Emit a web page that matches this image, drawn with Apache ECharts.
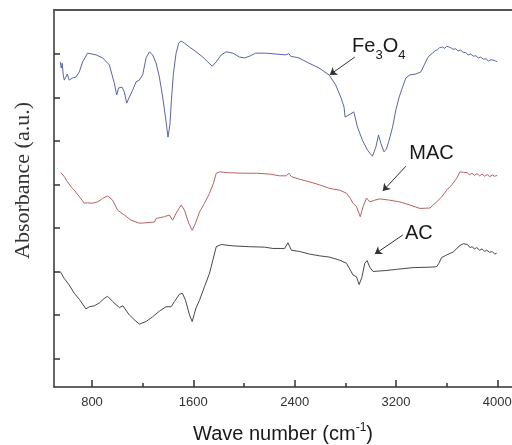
<!DOCTYPE html>
<html style="height: 100%">
<head>
  <meta charset="utf-8">
</head>
<body style="height: 100%; margin: 0; background: #fff">
  <div id="container" style="width: 512px; height: 445px"></div>
  <script type="text/javascript" src="https://fastly.jsdelivr.net/npm/echarts@6/dist/echarts.min.js"></script>
  <script type="text/javascript">
    // wave number (cm-1), absorbance (a.u., curves offset)
    var fe3o4 = [
      [549, 6.82], [557, 6.68], [565, 6.79], [573, 6.52], [581, 6.40], [594, 6.47], [605, 6.54],
      [620, 6.40], [647, 6.45], [673, 6.47], [700, 6.59], [726, 6.82], [765, 7.02], [832, 6.98],
      [884, 6.91], [937, 6.75], [976, 6.33], [995, 6.06], [1010, 6.22], [1037, 6.24], [1055, 6.13],
      [1074, 5.87], [1095, 6.01], [1121, 6.17], [1148, 6.36], [1174, 6.40], [1200, 6.52],
      [1227, 6.91], [1253, 7.05], [1279, 6.98], [1306, 6.79], [1332, 6.47], [1358, 6.01],
      [1380, 5.55], [1400, 5.09], [1415, 5.37], [1427, 5.94], [1443, 6.56], [1464, 7.02],
      [1485, 7.25], [1502, 7.30], [1530, 7.25], [1570, 7.16], [1623, 7.05], [1675, 6.93],
      [1714, 6.82], [1749, 6.72], [1781, 6.82], [1820, 6.98], [1860, 7.05], [1912, 7.02],
      [1965, 6.93], [2005, 6.91], [2044, 6.95], [2092, 7.02], [2171, 7.02], [2250, 7.00],
      [2329, 6.98], [2355, 7.01], [2368, 6.95], [2434, 6.91], [2513, 6.79], [2592, 6.68],
      [2671, 6.52], [2724, 6.29], [2764, 6.01], [2790, 5.78], [2798, 5.55], [2829, 5.60],
      [2867, 5.67], [2896, 5.32], [2935, 5.02], [2975, 4.79], [3014, 4.65], [3041, 4.86],
      [3062, 5.14], [3080, 4.95], [3106, 4.75], [3125, 4.82], [3146, 5.02], [3173, 5.32],
      [3199, 5.71], [3225, 6.01], [3252, 6.24], [3278, 6.45], [3310, 6.52], [3357, 6.54],
      [3397, 6.59], [3423, 6.75], [3450, 6.91], [3470, 6.98], [3489, 7.02], [3505, 7.07],
      [3515, 7.04], [3529, 7.10], [3545, 7.15], [3560, 7.12], [3568, 7.16], [3585, 7.13],
      [3600, 7.18], [3615, 7.14], [3630, 7.15], [3650, 7.11], [3673, 7.12], [3690, 7.07],
      [3710, 7.09], [3730, 7.04], [3752, 7.03], [3770, 6.98], [3790, 7.00], [3810, 6.95],
      [3831, 6.96], [3850, 6.91], [3870, 6.93], [3890, 6.88], [3911, 6.89], [3930, 6.84],
      [3950, 6.87], [3964, 6.83], [3980, 6.85], [4000, 6.82]
    ];
    var mac = [
      [555, 4.27], [581, 4.18], [607, 4.06], [634, 3.95], [660, 3.87], [700, 3.72], [739, 3.57],
      [765, 3.58], [805, 3.57], [844, 3.60], [884, 3.68], [923, 3.74], [963, 3.64], [1002, 3.41],
      [1055, 3.30], [1108, 3.18], [1174, 3.11], [1227, 3.12], [1293, 3.14], [1306, 3.22],
      [1372, 3.26], [1411, 3.30], [1437, 3.18], [1464, 3.34], [1504, 3.53], [1530, 3.41],
      [1564, 3.11], [1591, 2.95], [1617, 3.11], [1649, 3.37], [1688, 3.57], [1728, 3.80],
      [1759, 4.03], [1781, 4.26], [1807, 4.29], [1886, 4.27], [1991, 4.26], [2097, 4.26],
      [2202, 4.24], [2281, 4.20], [2334, 4.20], [2355, 4.26], [2374, 4.18], [2440, 4.12],
      [2519, 4.06], [2598, 3.99], [2677, 3.91], [2756, 3.87], [2809, 3.80], [2840, 3.68],
      [2861, 3.57], [2888, 3.49], [2918, 3.26], [2940, 3.49], [2967, 3.69], [2993, 3.60],
      [3033, 3.64], [3072, 3.67], [3151, 3.64], [3230, 3.60], [3310, 3.53], [3389, 3.45],
      [3468, 3.46], [3521, 3.60], [3560, 3.71], [3600, 3.87], [3640, 3.99], [3679, 4.14],
      [3705, 4.29], [3720, 4.25], [3735, 4.28], [3750, 4.24], [3765, 4.27], [3780, 4.22],
      [3800, 4.26], [3820, 4.21], [3840, 4.25], [3860, 4.20], [3880, 4.24], [3900, 4.19],
      [3920, 4.23], [3940, 4.18], [3960, 4.22], [3980, 4.19], [4000, 4.21]
    ];
    var ac = [
      [549, 2.00], [581, 1.84], [620, 1.69], [660, 1.50], [700, 1.36], [752, 1.14], [779, 1.19],
      [818, 1.21], [858, 1.28], [897, 1.38], [923, 1.43], [963, 1.31], [1016, 1.17], [1044, 1.21],
      [1055, 1.18], [1095, 1.00], [1135, 0.89], [1174, 0.79], [1227, 0.85], [1279, 0.96],
      [1332, 1.09], [1385, 1.19], [1425, 1.19], [1451, 1.31], [1491, 1.48], [1514, 1.50],
      [1538, 1.34], [1570, 1.00], [1591, 0.85], [1621, 1.16], [1649, 1.34], [1688, 1.65],
      [1728, 1.96], [1754, 2.26], [1781, 2.57], [1820, 2.62], [1912, 2.59], [2044, 2.57],
      [2163, 2.56], [2228, 2.53], [2321, 2.53], [2347, 2.66], [2374, 2.49], [2440, 2.46],
      [2519, 2.40], [2598, 2.36], [2677, 2.33], [2756, 2.26], [2809, 2.19], [2840, 2.03],
      [2861, 1.92], [2888, 1.88], [2909, 1.70], [2930, 1.86], [2954, 2.19], [2972, 2.25],
      [2993, 2.10], [3019, 2.00], [3059, 2.01], [3112, 2.02], [3205, 2.05], [3336, 2.09],
      [3468, 2.10], [3521, 2.11], [3539, 2.19], [3560, 2.32], [3600, 2.38], [3652, 2.45],
      [3705, 2.60], [3720, 2.57], [3735, 2.64], [3750, 2.60], [3765, 2.62], [3784, 2.55],
      [3800, 2.57], [3820, 2.52], [3837, 2.55], [3860, 2.49], [3880, 2.52], [3900, 2.46],
      [3916, 2.49], [3940, 2.44], [3960, 2.46], [3980, 2.40], [3995, 2.42]
    ];
    var majorTicks = [800, 1600, 2400, 3200, 4000];
    var minorTicks = [1200, 2000, 2800, 3600];
    var yTicks = [0, 1, 2, 3, 4, 5, 6, 7];

    // annotation text positions and arrows, in data units
    var labels = [
      { name: 'Fe3O4', coord: [3064, 7.14], text: '{b|Fe}{s|3}{b|O}{s|4}' },
      { name: 'MAC', coord: [3480, 4.68], text: '{b|MAC}' },
      { name: 'AC', coord: [3381, 2.85], text: '{b|AC}' }
    ];
    var arrows = [
      [[2875, 6.93], [2677, 6.52]],
      [[3278, 4.42], [3096, 3.85]],
      [[3254, 2.84], [3033, 2.40]]
    ];

    var myChart = echarts.init(document.getElementById('container'), null, { renderer: 'canvas' });

    var gridBox = { left: 54, right: 0, top: 10, bottom: 58, containLabel: false, outerBoundsMode: 'none' };
    var xMin = 500, xMax = 4116, yMin = -0.655, yMax = 8.012;

    function curve(name, data, color) {
      return {
        name: name,
        type: 'line',
        data: data,
        showSymbol: false,
        symbol: 'none',
        animation: false,
        lineStyle: { color: color, width: 1 },
        z: 2
      };
    }

    var acSeries = curve('AC', ac, '#484848');
    acSeries.markLine = {
      silent: true,
      animation: false,
      symbol: ['none', 'arrow'],
      symbolSize: 7,
      label: { show: false },
      lineStyle: { color: '#333', width: 1, type: 'solid' },
      data: arrows.map(function (a) {
        return [{ coord: a[0] }, { coord: a[1] }];
      })
    };
    acSeries.markPoint = {
      silent: true,
      animation: false,
      symbol: 'circle',
      symbolSize: 1,
      itemStyle: { color: 'rgba(0,0,0,0)' },
      label: {
        show: true,
        position: 'inside',
        rich: {
          b: { fontFamily: 'Liberation Sans', fontSize: 20, color: '#1a1a1a', verticalAlign: 'top', lineHeight: 22 },
          s: { fontFamily: 'Liberation Sans', fontSize: 13, color: '#1a1a1a', padding: [14, 0, 0, 0], lineHeight: 22 }
        }
      },
      data: labels.map(function (l) {
        return { name: l.name, coord: l.coord, label: { formatter: l.text } };
      })
    };

    var option = {
      backgroundColor: '#ffffff',
      animation: false,
      grid: [gridBox, gridBox],
      xAxis: [
        {
          type: 'value',
          gridIndex: 0,
          min: xMin,
          max: xMax,
          position: 'bottom',
          axisLine: { show: true, onZero: false, lineStyle: { color: '#333', width: 1.5 } },
          axisTick: { show: true, inside: true, length: 7, customValues: majorTicks, lineStyle: { color: '#333', width: 1.5 } },
          axisLabel: {
            show: true, customValues: majorTicks, fontFamily: 'Liberation Sans', fontSize: 13, color: '#333', margin: 9,
            formatter: function (v) { return String(v); }
          },
          splitLine: { show: false },
          name: '{a|Wave number (cm}{s|-1}{a|)}',
          nameLocation: 'middle',
          nameGap: 32,
          nameTextStyle: {
            rich: {
              a: { fontFamily: 'Liberation Sans', fontSize: 20, color: '#1a1a1a', lineHeight: 24, padding: [6, 0, 0, 0] },
              s: { fontFamily: 'Liberation Sans', fontSize: 12, color: '#1a1a1a', lineHeight: 24, padding: [0, 0, 6, 0] }
            }
          }
        },
        {
          type: 'value',
          gridIndex: 0,
          min: xMin,
          max: xMax,
          position: 'top',
          axisLine: { show: true, onZero: false, lineStyle: { color: '#555', width: 2 } },
          axisTick: { show: false },
          axisLabel: { show: false },
          splitLine: { show: false }
        },
        {
          // minor ticks, drawn on a twin grid
          type: 'value',
          gridIndex: 1,
          min: xMin,
          max: xMax,
          position: 'bottom',
          axisLine: { show: false, onZero: false },
          axisTick: { show: true, inside: true, length: 4, customValues: minorTicks, lineStyle: { color: '#333', width: 1.5 } },
          axisLabel: { show: false },
          splitLine: { show: false }
        }
      ],
      yAxis: [
        {
          type: 'value',
          gridIndex: 0,
          min: yMin,
          max: yMax,
          axisLine: { show: true, onZero: false, lineStyle: { color: '#333', width: 1.5 } },
          axisTick: { show: true, inside: true, length: 6, customValues: yTicks, lineStyle: { color: '#333', width: 1.5 } },
          axisLabel: { show: false },
          splitLine: { show: false },
          name: 'Absorbance (a.u.)',
          nameLocation: 'middle',
          nameGap: 20,
          nameTextStyle: {
            fontFamily: 'Liberation Serif',
            fontSize: 22,
            color: '#333',
            padding: [0, 0, 0, 36]
          }
        },
        {
          type: 'value',
          gridIndex: 1,
          min: yMin,
          max: yMax,
          axisLine: { show: false },
          axisTick: { show: false },
          axisLabel: { show: false },
          splitLine: { show: false }
        }
      ],
      series: [
        curve('Fe3O4', fe3o4, '#5866aa'),
        curve('MAC', mac, '#b46464'),
        acSeries
      ]
    };

    myChart.setOption(option);
  </script>
</body>
</html>
